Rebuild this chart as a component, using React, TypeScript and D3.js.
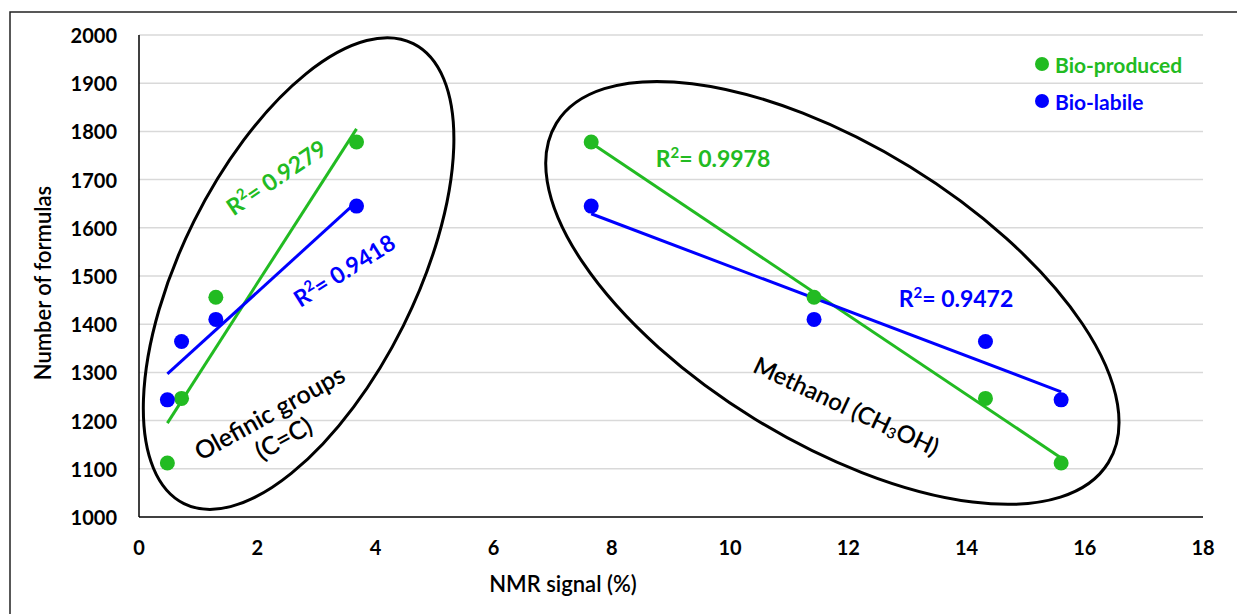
import { useEffect, useRef } from 'react';
import * as d3 from 'd3';

// values
const nmrOlefinic = [0.48, 0.72, 1.3, 3.68];
const nmrMethanol = [7.65, 11.42, 14.32, 15.6];
const producedOlefinic = [1112, 1246, 1456, 1778];
const labileOlefinic = [1243, 1364, 1410, 1645];
const producedMethanol = [1778, 1456, 1246, 1112];
const labileMethanol = [1645, 1410, 1364, 1243];
const xTicks = [0, 2, 4, 6, 8, 10, 12, 14, 16, 18];
const yTicks = [1000, 1100, 1200, 1300, 1400, 1500, 1600, 1700, 1800, 1900, 2000];
const seriesNames = ['Bio-produced', 'Bio-labile'];
const r2Olefinic = ['0.9279', '0.9418'];
const r2Methanol = ['0.9978', '0.9472'];

const GREEN = '#22bb22';
const BLUE = '#0000ff';
const FONT = 'Lato, "Open Sans", sans-serif';

// least squares line over the range of the points
function fitLine(xs: number[], ys: number[]) {
    const mx = d3.mean(xs) as number;
    const my = d3.mean(ys) as number;
    let sxy = 0, sxx = 0;
    xs.forEach((x, i) => { sxy += (x - mx) * (ys[i] - my); sxx += (x - mx) * (x - mx); });
    const slope = sxy / sxx;
    const [x0, x1] = d3.extent(xs) as [number, number];
    return [
        { x: x0, y: my + slope * (x0 - mx) },
        { x: x1, y: my + slope * (x1 - mx) }
    ];
}

function App() {
    const svgRef = useRef<SVGSVGElement>(null);

    useEffect(() => {
        if (!svgRef.current) return;
        const svg = d3.select(svgRef.current);
        svg.selectAll('*').remove();

        const x = d3.scaleLinear().domain([0, 18]).range([139, 1203]);
        const y = d3.scaleLinear().domain([1000, 2000]).range([517, 35]);

        svg.append('rect').attr('width', 1237).attr('height', 614).attr('fill', 'white');
        // outer frame
        svg.append('rect')
            .attr('x', 10).attr('y', 12).attr('width', 1240).attr('height', 620)
            .attr('fill', 'none').attr('stroke', '#222').attr('stroke-width', 1.5);

        // grid
        svg.append('g').selectAll('line').data(yTicks.slice(1)).join('line')
            .attr('x1', x(0)).attr('x2', x(18))
            .attr('y1', d => y(d)).attr('y2', d => y(d))
            .attr('stroke', '#d9d9d9').attr('stroke-width', 1.5);

        // axes
        svg.append('line').attr('x1', x(0)).attr('x2', x(0)).attr('y1', y(2000)).attr('y2', y(1000))
            .attr('stroke', 'black').attr('stroke-width', 1.5);
        svg.append('line').attr('x1', x(0)).attr('x2', x(18)).attr('y1', y(1000)).attr('y2', y(1000))
            .attr('stroke', 'black').attr('stroke-width', 1.5);

        svg.append('g').selectAll('text').data(yTicks).join('text')
            .attr('x', 117).attr('y', d => y(d))
            .attr('text-anchor', 'end').attr('dominant-baseline', 'central')
            .attr('font-family', FONT).attr('font-weight', 'bold').attr('font-size', 20)
            .text(d => d);
        svg.append('g').selectAll('text').data(xTicks).join('text')
            .attr('x', d => x(d)).attr('y', 547)
            .attr('text-anchor', 'middle').attr('dominant-baseline', 'central')
            .attr('font-family', FONT).attr('font-weight', 'bold').attr('font-size', 20)
            .text(d => d);

        svg.append('text')
            .attr('transform', 'translate(42,283) rotate(-90)')
            .attr('text-anchor', 'middle').attr('dominant-baseline', 'central')
            .attr('font-family', FONT).attr('font-weight', 600).attr('font-size', 22)
            .text('Number of formulas');
        svg.append('text')
            .attr('x', 563).attr('y', 583)
            .attr('text-anchor', 'middle').attr('dominant-baseline', 'central')
            .attr('font-family', FONT).attr('font-weight', 600).attr('font-size', 22)
            .text('NMR signal (%)');

        // group ellipses
        svg.append('ellipse')
            .attr('transform', `translate(${x(2.7)},${y(1505)}) rotate(-63.5)`)
            .attr('rx', 257).attr('ry', 117)
            .attr('fill', 'none').attr('stroke', 'black').attr('stroke-width', 3);
        svg.append('ellipse')
            .attr('transform', `translate(${x(11.73)},${y(1465)}) rotate(31.6)`)
            .attr('rx', 324).attr('ry', 148)
            .attr('fill', 'none').attr('stroke', 'black').attr('stroke-width', 3);

        // trend lines
        const line = d3.line<{ x: number, y: number }>().x(d => x(d.x)).y(d => y(d.y));
        const trends = [
            { xs: nmrOlefinic, ys: producedOlefinic, c: GREEN },
            { xs: nmrOlefinic, ys: labileOlefinic, c: BLUE },
            { xs: nmrMethanol, ys: producedMethanol, c: GREEN },
            { xs: nmrMethanol, ys: labileMethanol, c: BLUE }
        ];
        trends.forEach(t => {
            svg.append('path').datum(fitLine(t.xs, t.ys))
                .attr('d', line).attr('fill', 'none')
                .attr('stroke', t.c).attr('stroke-width', 3);
        });

        // points
        trends.forEach(t => {
            svg.append('g').selectAll('circle').data(t.xs).join('circle')
                .attr('cx', d => x(d)).attr('cy', (_, i) => y(t.ys[i]))
                .attr('r', 7.5).attr('fill', t.c);
        });

        // R² labels
        const r2 = (tx: number, ty: number, angle: number, color: string, value: string) => {
            const t = svg.append('text')
                .attr('transform', `translate(${tx},${ty}) rotate(${angle})`)
                .attr('text-anchor', 'middle').attr('dominant-baseline', 'central')
                .attr('font-family', FONT).attr('font-weight', 'bold').attr('font-size', 23)
                .attr('fill', color);
            t.append('tspan').text('R');
            t.append('tspan').attr('dy', -6).attr('font-size', 15).text('2');
            t.append('tspan').attr('dy', 6).text('= ' + value);
        };
        r2(276, 177, -34, GREEN, r2Olefinic[0]);
        r2(344, 270, -32, BLUE, r2Olefinic[1]);
        r2(713, 158, 0, GREEN, r2Methanol[0]);
        r2(956, 298, 0, BLUE, r2Methanol[1]);

        // group names
        const g1 = svg.append('text')
            .attr('transform', 'translate(269,412) rotate(-29)')
            .attr('text-anchor', 'middle').attr('dominant-baseline', 'central')
            .attr('font-family', FONT).attr('font-weight', 600).attr('font-size', 25).attr('fill', 'black');
        g1.append('tspan').attr('x', 0).attr('dy', 0).text('Olefinic groups');
        g1.append('tspan').attr('x', 0).attr('dy', 29).text('(C=C)');

        const g2 = svg.append('text')
            .attr('transform', 'translate(847,405) rotate(25)')
            .attr('text-anchor', 'middle').attr('dominant-baseline', 'central')
            .attr('font-family', FONT).attr('font-weight', 600).attr('font-size', 24).attr('fill', 'black');
        g2.append('tspan').text('Methanol (CH');
        g2.append('tspan').attr('dy', 6).attr('font-size', 15).text('3');
        g2.append('tspan').attr('dy', -6).text('OH)');

        // legend
        const legend = svg.append('g').selectAll('g').data(seriesNames).join('g')
            .attr('transform', (_, i) => `translate(1042,${64 + i * 37})`);
        legend.append('circle').attr('r', 7).attr('fill', (_, i) => i === 0 ? GREEN : BLUE);
        legend.append('text')
            .attr('x', 13).attr('dominant-baseline', 'central')
            .attr('font-family', FONT).attr('font-weight', 'bold').attr('font-size', 21)
            .attr('fill', (_, i) => i === 0 ? GREEN : BLUE)
            .text(d => d);

        return () => { svg.selectAll('*').remove(); };
    }, []);

    return (
        <div style={{ position: 'absolute', left: 0, top: 0 }}>
            <svg ref={svgRef} width={1237} height={614} style={{ display: 'block' }}></svg>
        </div>
    );
}

export default App;
